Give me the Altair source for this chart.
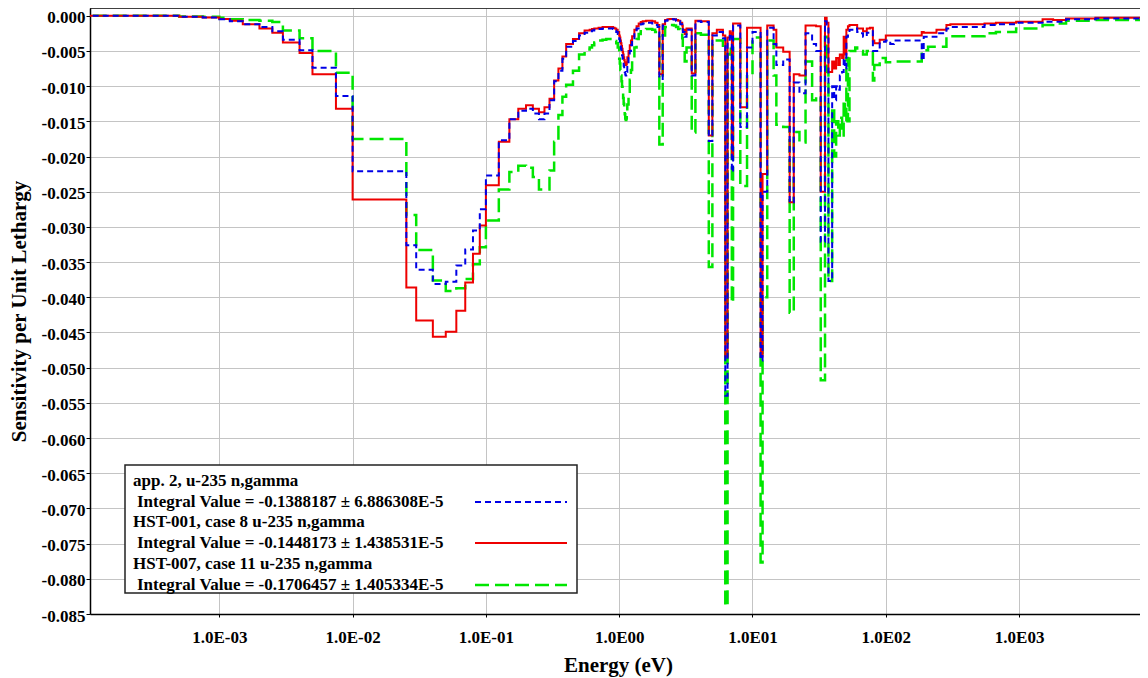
import json
import altair as alt
import pandas as pd

# ---------------- data ----------------
energy_edges = [
    1e-5, 1e-4, 5e-4, 7.5e-4, 1e-3, 1.2e-3, 1.5e-3, 2e-3, 2.5e-3, 3e-3,
    4e-3, 5e-3, 7.5e-3, 1e-2, 2.53e-2, 3e-2, 4e-2, 5e-2, 6e-2, 7e-2,
    8e-2, 9e-2, 0.1, 0.125, 0.15, 0.175, 0.2, 0.225, 0.25, 0.275,
    0.3, 0.325, 0.35, 0.375, 0.4, 0.45, 0.5, 0.55, 0.6, 0.625,
    0.65, 0.7, 0.75, 0.8, 0.85, 0.9, 0.925, 0.95, 0.975, 1.0,
    1.01, 1.02, 1.03, 1.04, 1.05, 1.06, 1.07, 1.08, 1.09, 1.1,
    1.11, 1.12, 1.13, 1.14, 1.15, 1.175, 1.2, 1.225, 1.25, 1.3,
    1.35, 1.4, 1.45, 1.5, 1.59, 1.68, 1.77, 1.86, 1.94, 2.0,
    2.12, 2.21, 2.3, 2.38, 2.47, 2.57, 2.67, 2.77, 2.87, 2.97,
    3.0, 3.1, 3.2, 3.5, 3.73, 4.1, 4.7, 5.0, 5.4, 6.0,
    6.25, 6.5, 6.75, 6.875, 7.0, 7.15, 8.1, 9.1, 10.0, 11.5,
    11.9, 12.9, 14.4, 15.1, 17.0, 19.0, 20.4, 22.5, 25.0, 28.0,
    30.0, 32.5, 35.0, 36.0, 37.13, 39.6, 41.0, 42.4, 44.0, 45.2,
    47.0, 48.3, 49.2, 50.6, 52.0, 53.4, 59.0, 61.0, 65.0, 67.5,
    72.0, 76.0, 80.0, 82.0, 90.0, 100.0, 108.0, 115.0, 119.0, 122.0,
    186.0, 192.5, 207.5, 210.0, 240.0, 285.0, 305.0, 550.0, 670.0, 683.0,
    950.0, 1150.0, 1500.0, 1550.0, 1800.0, 2200.0, 2250.0, 2500.0, 3000.0, 3740.0,
    3900.0, 5700.0, 8030.0, 9500.0, 13000.0,
]

# HST-001, case 8 (red, solid)
red_vals = [
    0.0, 0.0, -0.00015, -0.00025, -0.00045, -0.0007, -0.0012, -0.0018, -0.0024, -0.0038,
    -0.0053, -0.0083, -0.0132, -0.0261, -0.0386, -0.0433, -0.0456, -0.0449, -0.0419, -0.0379,
    -0.0338, -0.0298, -0.0241, -0.0179, -0.0147, -0.0132, -0.0127, -0.0132, -0.0137, -0.0130,
    -0.0118, -0.0092, -0.0075, -0.0058, -0.0040, -0.0033, -0.0025, -0.0021, -0.0020, -0.0019,
    -0.0018, -0.0017, -0.0016, -0.0016, -0.0016, -0.0017, -0.0018, -0.0020, -0.0023, -0.0028,
    -0.0031, -0.0035, -0.0039, -0.0043, -0.0047, -0.0051, -0.0055, -0.0059, -0.0063, -0.00665,
    -0.0069, -0.0070, -0.0069, -0.0066, -0.0059, -0.0050, -0.0042, -0.0035, -0.0029, -0.0020,
    -0.0015, -0.0011, -0.0009, -0.0008, -0.0007, -0.0007, -0.0008, -0.0010, -0.0013, -0.0083,
    -0.0012, -0.0006, -0.0005, -0.00045, -0.00045, -0.0005, -0.0006, -0.0007, -0.0010, -0.0014,
    -0.0020, -0.0026, -0.0018, -0.0082, -0.0007, -0.0008, -0.0170, -0.0025, -0.0020, -0.0028,
    -0.0484, -0.0031, -0.0022, -0.0025, -0.0200, -0.0011, -0.0130, -0.0017, -0.0017, -0.0484,
    -0.0225, -0.0014, -0.0020, -0.0045, -0.0051, -0.0265, -0.0083, -0.0085, -0.0014, -0.0014,
    -0.0015, -0.0250, -0.0003, -0.0010, -0.0080, -0.0065, -0.0075, -0.0060, -0.0070, -0.0055,
    -0.0060, -0.0030, -0.0055, -0.0020, -0.0015, -0.0013, -0.0013, -0.0018, -0.0018, -0.0022,
    -0.0018, -0.0017, -0.0035, -0.0039, -0.0034, -0.0028, -0.0028, -0.0028, -0.0028, -0.0028,
    -0.0023, -0.0024, -0.0024, -0.0024, -0.0020, -0.0013, -0.0012, -0.0011, -0.0010, -0.0010,
    -0.00085, -0.00085, -0.0005, -0.0005, -0.0006, -0.0006, -0.0004, -0.0004, -0.0004, -0.0003,
    -0.0003, -0.0003, -0.0003, -0.0003,
]

# app. 2 (blue, short dashes)
blue_vals = [
    0.0, 0.0, -0.00015, -0.00025, -0.0005, -0.0008, -0.0012, -0.0016, -0.0022, -0.0034,
    -0.0049, -0.0074, -0.0114, -0.0221, -0.0326, -0.0361, -0.0381, -0.0378, -0.0355, -0.0332,
    -0.0305, -0.0275, -0.0227, -0.0177, -0.0147, -0.0135, -0.0132, -0.0139, -0.0147, -0.0139,
    -0.0120, -0.0093, -0.0078, -0.0061, -0.0044, -0.0036, -0.0028, -0.0024, -0.0022, -0.0021,
    -0.0020, -0.0019, -0.0018, -0.0018, -0.0018, -0.0019, -0.0021, -0.0023, -0.0026, -0.0033,
    -0.0037, -0.0042, -0.0047, -0.0052, -0.0056, -0.0061, -0.0066, -0.0071, -0.0076, -0.0080,
    -0.00835, -0.0085, -0.00835, -0.0080, -0.0071, -0.0060, -0.0050, -0.0042, -0.0035, -0.0024,
    -0.0018, -0.0014, -0.0012, -0.0011, -0.0010, -0.0010, -0.0011, -0.0013, -0.0016, -0.0090,
    -0.0014, -0.0007, -0.0006, -0.0005, -0.0005, -0.00055, -0.0007, -0.0008, -0.0012, -0.0016,
    -0.0023, -0.0030, -0.0020, -0.0085, -0.0008, -0.0009, -0.0178, -0.0028, -0.0023, -0.0032,
    -0.0540, -0.0034, -0.0025, -0.0030, -0.0222, -0.0014, -0.0158, -0.0045, -0.0023, -0.0490,
    -0.0250, -0.0017, -0.0040, -0.0070, -0.0062, -0.0265, -0.0095, -0.0110, -0.0025, -0.0040,
    -0.0050, -0.0321, -0.0008, -0.0015, -0.0377, -0.0100, -0.0120, -0.0100, -0.0105, -0.0085,
    -0.0080, -0.0060, -0.0075, -0.0030, -0.0023, -0.0020, -0.0018, -0.0023, -0.0025, -0.0030,
    -0.0024, -0.0022, -0.0050, -0.0050, -0.0037, -0.0035, -0.0040, -0.0035, -0.0035, -0.0035,
    -0.0063, -0.0030, -0.0030, -0.0030, -0.0025, -0.0018, -0.0016, -0.0013, -0.0012, -0.0012,
    -0.0010, -0.0010, -0.00085, -0.00085, -0.00085, -0.00085, -0.0005, -0.0005, -0.0005, -0.0004,
    -0.0004, -0.0004, -0.0004, -0.0004,
]

# HST-007, case 11 (green, long dashes)
green_vals = [
    0.0, 0.0, -0.0001, -0.00015, -0.0003, -0.0005, -0.0006, -0.0007, -0.0009, -0.0021,
    -0.0032, -0.0050, -0.0081, -0.0175, -0.0283, -0.0333, -0.0376, -0.0391, -0.0387, -0.0374,
    -0.0353, -0.0329, -0.0291, -0.0247, -0.0222, -0.0213, -0.0216, -0.0229, -0.0247, -0.0247,
    -0.0220, -0.0179, -0.0141, -0.0115, -0.0098, -0.0078, -0.0055, -0.0048, -0.0045, -0.0042,
    -0.0038, -0.0035, -0.0034, -0.0033, -0.0033, -0.0034, -0.0036, -0.0039, -0.0045, -0.0061,
    -0.0068, -0.0077, -0.0085, -0.0093, -0.0101, -0.0109, -0.0117, -0.0125, -0.0133, -0.0140,
    -0.0146, -0.0148, -0.0146, -0.0140, -0.0126, -0.0108, -0.0091, -0.0077, -0.0064, -0.0045,
    -0.0033, -0.0026, -0.0022, -0.0020, -0.0019, -0.0019, -0.0020, -0.0023, -0.0028, -0.0183,
    -0.0028, -0.0016, -0.0014, -0.0013, -0.0013, -0.0014, -0.0016, -0.0019, -0.0024, -0.0032,
    -0.0045, -0.0065, -0.0045, -0.0166, -0.0025, -0.0027, -0.0357, -0.0040, -0.0035, -0.0050,
    -0.0839, -0.0055, -0.0045, -0.0055, -0.0408, -0.0033, -0.0242, -0.0084, -0.0031, -0.0777,
    -0.0400, -0.0035, -0.0085, -0.0155, -0.0158, -0.0422, -0.0165, -0.0180, -0.0065, -0.0120,
    -0.0115, -0.0518, -0.0030, -0.0080, -0.0377, -0.0130, -0.0200, -0.0150, -0.0170, -0.0145,
    -0.0170, -0.0120, -0.0150, -0.0060, -0.0150, -0.0050, -0.0045, -0.0050, -0.0050, -0.0055,
    -0.0050, -0.0049, -0.0092, -0.0070, -0.0060, -0.0066, -0.0066, -0.0065, -0.0065, -0.0065,
    -0.0049, -0.0049, -0.0044, -0.0044, -0.0044, -0.0030, -0.0029, -0.0025, -0.0023, -0.0023,
    -0.0018, -0.0018, -0.0013, -0.0013, -0.0011, -0.0011, -0.0007, -0.0007, -0.0007, -0.0006,
    -0.0006, -0.0006, -0.0006, -0.0006,
]

series_names = [
    "app. 2, u-235 n,gamma",
    "HST-001, case 8 u-235 n,gamma",
    "HST-007, case 11 u-235 n,gamma",
]
integral_texts = [
    "Integral Value = -0.1388187 \u00b1 6.886308E-5",
    "Integral Value = -0.1448173 \u00b1 1.438531E-5",
    "Integral Value = -0.1706457 \u00b1 1.405334E-5",
]

x_tick_values = [1e-3, 1e-2, 1e-1, 1.0, 10.0, 100.0, 1000.0]
x_tick_labels = ["1.0E-03", "1.0E-02", "1.0E-01", "1.0E00", "1.0E01", "1.0E02", "1.0E03"]
y_tick_values = [-(i * 5) / 1000 for i in range(18)]
y_tick_labels = [f"{v:.3f}" for v in y_tick_values]

assert len(energy_edges) == len(red_vals) + 1 == len(blue_vals) + 1 == len(green_vals) + 1

# ---------------- styling ----------------
FONT = "Liberation Serif"
BLUE, RED, GREEN = "#0000e6", "#ee0000", "#00e600"
W, H = 1050, 606
X_DOMAIN = [10 ** -3.970, 10 ** 3.907]
Y_DOMAIN = [-0.085, 0.0011]


def steps(vals):
    return pd.DataFrame({"energy": energy_edges, "sens": list(vals) + [vals[-1]]})


x_enc = alt.X(
    "energy:Q",
    scale=alt.Scale(type="log", domain=X_DOMAIN, nice=False),
    axis=alt.Axis(
        values=x_tick_values,
        labelExpr=f"{json.dumps(x_tick_labels)}[indexof({json.dumps(x_tick_values)}, datum.value)]",
        title="Energy (eV)",
        grid=True, gridColor="#c4c4c4", gridWidth=1,
        domainColor="black", domainWidth=1.5,
        tickColor="black", tickSize=3,
        labelFont=FONT, labelFontWeight="bold", labelFontSize=17, labelColor="black",
        labelPadding=12,
        titleFont=FONT, titleFontWeight="bold", titleFontSize=21, titleColor="black",
        titleX=528, titleY=51, titleAlign="center", titleBaseline="middle",
    ),
)
y_enc = alt.Y(
    "sens:Q",
    scale=alt.Scale(domain=Y_DOMAIN, nice=False, zero=False),
    axis=alt.Axis(
        values=y_tick_values,
        labelExpr=f"{json.dumps(y_tick_labels)}[indexof({json.dumps(y_tick_values)}, datum.value)]",
        title="Sensitivity per Unit Lethargy",
        grid=True, gridColor="#c4c4c4", gridWidth=1,
        domainColor="black", domainWidth=1.5,
        tickColor="black", tickSize=4,
        labelFont=FONT, labelFontWeight="bold", labelFontSize=17, labelColor="black",
        labelPadding=1, labelOffset=2,
        titleFont=FONT, titleFontWeight="bold", titleFontSize=21, titleColor="black",
        titleX=-71, titleY=303, titleAngle=-90, titleAlign="center", titleBaseline="middle",
    ),
)

green_line = alt.Chart(steps(green_vals)).mark_line(
    interpolate="step-after", color=GREEN, strokeWidth=2.5, strokeDash=[14, 6], clip=True
).encode(x=x_enc, y=y_enc)
red_line = alt.Chart(steps(red_vals)).mark_line(
    interpolate="step-after", color=RED, strokeWidth=2, clip=True
).encode(x=x_enc, y=y_enc)
blue_line = alt.Chart(steps(blue_vals)).mark_line(
    interpolate="step-after", color=BLUE, strokeWidth=2, strokeDash=[6, 4], clip=True
).encode(x=x_enc, y=y_enc)

one = pd.DataFrame({"k": [0]})
top_rule = alt.Chart(one).mark_rule(color="black", strokeWidth=1.5).encode(
    x=alt.value(0), x2=alt.value(W), y=alt.value(0)
)

legend_box = alt.Chart(one).mark_rect(fill="white", stroke="#222222", strokeWidth=1.5).encode(
    x=alt.value(35), x2=alt.value(487), y=alt.value(457), y2=alt.value(585)
)

styles = [
    dict(color=BLUE, strokeWidth=2, strokeDash=[6, 4]),
    dict(color=RED, strokeWidth=2),
    dict(color=GREEN, strokeWidth=2.5, strokeDash=[14, 6]),
]
legend_layers = []
row_y = [473, 514, 556]
int_y = [494, 535, 577]
for i in range(3):
    legend_layers.append(
        alt.Chart(one).mark_text(
            align="left", baseline="middle", font=FONT, fontSize=17, fontWeight="bold", color="black"
        ).encode(x=alt.value(43), y=alt.value(row_y[i]), text=alt.value(series_names[i]))
    )
    legend_layers.append(
        alt.Chart(one).mark_text(
            align="left", baseline="middle", font=FONT, fontSize=17, fontWeight="bold", color="black"
        ).encode(x=alt.value(47), y=alt.value(int_y[i]), text=alt.value(integral_texts[i]))
    )
    legend_layers.append(
        alt.Chart(one).mark_rule(**styles[i]).encode(
            x=alt.value(385), x2=alt.value(477), y=alt.value(int_y[i])
        )
    )

chart = alt.layer(
    green_line, red_line, blue_line, top_rule, legend_box, *legend_layers
).properties(
    width=W, height=H,
    padding={"left": 82, "top": 0, "right": 0, "bottom": 64},
    autosize=alt.AutoSizeParams(type="none"),
    background="white",
).configure_view(stroke="transparent")

chart.save("out.html", embed_options={"renderer": "svg", "actions": False})
